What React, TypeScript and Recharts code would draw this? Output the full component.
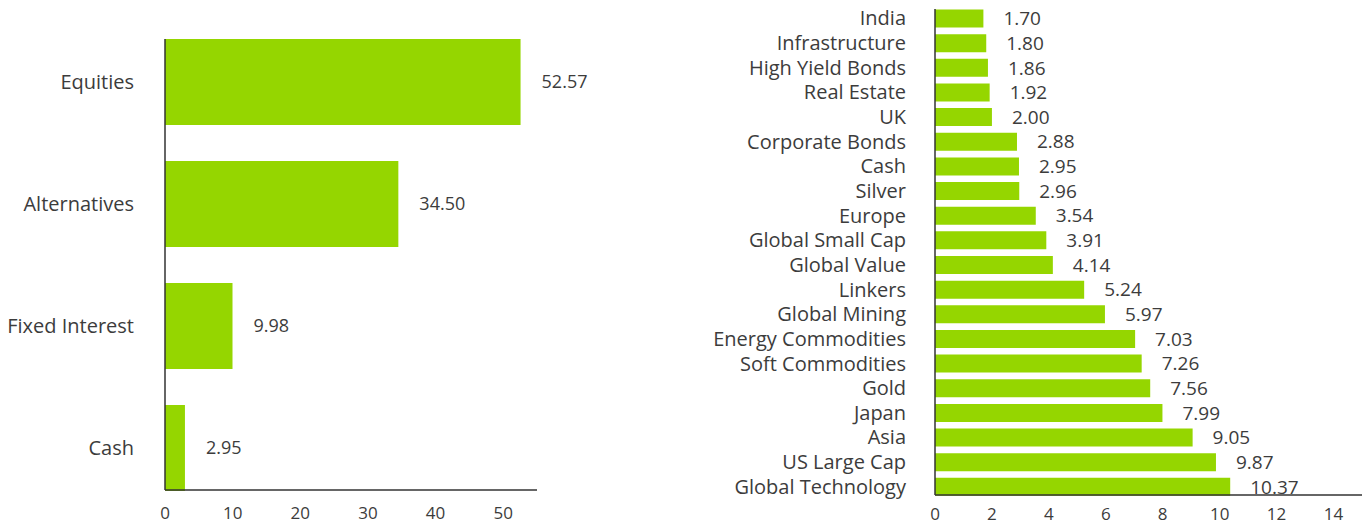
import React from "react";
import { BarChart, Bar, XAxis, YAxis, LabelList } from "recharts";

const assetClasses = ["Equities", "Alternatives", "Fixed Interest", "Cash"];
const assetWeights = [52.57, 34.5, 9.98, 2.95];
const leftTicks = [0, 10, 20, 30, 40, 50];

const holdings = [
  "India", "Infrastructure", "High Yield Bonds", "Real Estate", "UK",
  "Corporate Bonds", "Cash", "Silver", "Europe", "Global Small Cap",
  "Global Value", "Linkers", "Global Mining", "Energy Commodities",
  "Soft Commodities", "Gold", "Japan", "Asia", "US Large Cap", "Global Technology",
];
const holdingWeights = [
  1.7, 1.8, 1.86, 1.92, 2.0, 2.88, 2.95, 2.96, 3.54, 3.91,
  4.14, 5.24, 5.97, 7.03, 7.26, 7.56, 7.99, 9.05, 9.87, 10.37,
];
const rightTicks = [0, 2, 4, 6, 8, 10, 12, 14];

const GREEN = "#95D600";
const TEXT = "#3c3c3c";
const AXIS = "#333333";
const FONT = "'Open Sans', sans-serif";

const leftData = assetClasses.map((name, i) => ({ name, value: assetWeights[i] }));
const rightData = holdings.map((name, i) => ({ name, value: holdingWeights[i] }));

const fmt = (v: any) => Number(v).toFixed(2);

export default function App() {
  return (
    <div style={{ position: "absolute", left: 0, top: 0, width: 1367, height: 527, overflow: "hidden", background: "#fff", fontFamily: FONT }}>
      <div style={{ position: "absolute", left: 0, top: 0 }}>
        <BarChart
          width={600}
          height={527}
          data={leftData}
          layout="vertical"
          margin={{ top: 39, right: 63, left: 0, bottom: 7 }}
          barCategoryGap={18}
        >
          <XAxis
            type="number"
            domain={[0, 55]}
            ticks={leftTicks}
            tickLine={false}
            axisLine={{ stroke: AXIS, strokeWidth: 1.5 }}
            tick={{ fill: TEXT, fontSize: 17, fontFamily: FONT }}
            tickMargin={11}
            height={30}
          />
          <YAxis
            type="category"
            dataKey="name"
            width={165}
            tickLine={false}
            axisLine={{ stroke: AXIS, strokeWidth: 1.5 }}
            tick={{ fill: TEXT, fontSize: 20, fontFamily: FONT }}
            tickMargin={25}
            padding={{ top: -18, bottom: -19 }}
          />
          <Bar dataKey="value" fill={GREEN} isAnimationActive={false}>
            <LabelList dataKey="value" position="right" offset={21} formatter={fmt} fill={TEXT} fontSize={18} fontFamily={FONT} />
          </Bar>
        </BarChart>
      </div>
      <div style={{ position: "absolute", left: 600, top: 0 }}>
        <BarChart
          width={767}
          height={527}
          data={rightData}
          layout="vertical"
          margin={{ top: 9, right: 5, left: 0, bottom: 2 }}
          barCategoryGap={3.5}
        >
          <XAxis
            type="number"
            domain={[0, 15]}
            ticks={rightTicks}
            tickLine={false}
            axisLine={{ stroke: AXIS, strokeWidth: 1.5 }}
            tick={{ fill: TEXT, fontSize: 17, fontFamily: FONT }}
            tickMargin={7}
            height={30}
          />
          <YAxis
            type="category"
            dataKey="name"
            width={335}
            tickLine={false}
            axisLine={{ stroke: AXIS, strokeWidth: 1.5 }}
            tick={{ fill: TEXT, fontSize: 20, fontFamily: FONT }}
            tickMargin={23}
            interval={0}
            padding={{ top: -3, bottom: -4 }}
          />
          <Bar dataKey="value" fill={GREEN} isAnimationActive={false}>
            <LabelList dataKey="value" position="right" offset={20} formatter={fmt} fill={TEXT} fontSize={19} fontFamily={FONT} />
          </Bar>
        </BarChart>
      </div>
    </div>
  );
}
